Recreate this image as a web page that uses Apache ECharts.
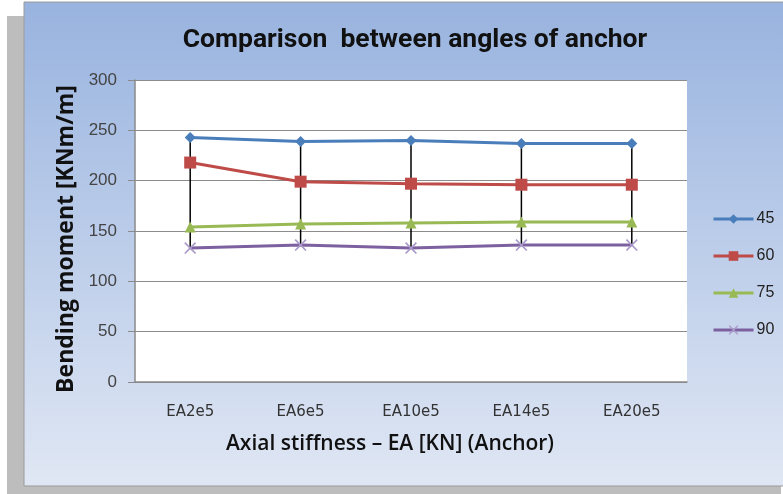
<!DOCTYPE html>
<html>
<head>
<meta charset="utf-8">
<title>Comparison between angles of anchor</title>
<script src="https://cdn.jsdelivr.net/npm/echarts@6/dist/echarts.min.js"></script>
<style>
  html, body { margin: 0; padding: 0; background: #fff; }
  #mychart1 { width: 783px; height: 494px; }
</style>
</head>
<body>
<div id="mychart1"></div>
<script>
// categories (x axis)
const categories = ["EA2e5", "EA6e5", "EA10e5", "EA14e5", "EA20e5"];
// bending moment per anchor angle
const angle45 = [243, 239, 240, 237, 237];
const angle60 = [218, 199, 197, 196, 196];
const angle75 = [154, 157, 158, 159, 159];
const angle90 = [133, 136, 133, 136, 136];
const seriesNames = ["45", "60", "75", "90"];
// y axis ticks
const yMin = 0, yMax = 300, yStep = 50;

// high-low lines: top and bottom value of each category
const allSeries = [angle45, angle60, angle75, angle90];
const hiLow = categories.map((c, i) => {
  const vals = allSeries.map(s => s[i]);
  return [i, Math.max(...vals), Math.min(...vals)];
});

const crossPath = "path://M0,1L1,0L5,4L9,0L10,1L6,5L10,9L9,10L5,6L1,10L0,9L4,5Z";

const option = {
  animation: false,
  graphic: [
    { // 阴影
      type: "rect", z: -10, silent: true,
      shape: { x: 7, y: 16, width: 774, height: 478 },
      style: { fill: "#bdbdbd" }
    },
    { // 图表区背景
      type: "rect", z: -9, silent: true,
      shape: { x: 24, y: 2, width: 762, height: 484 },
      style: {
        fill: new echarts.graphic.LinearGradient(0, 0, 0, 1, [
          { offset: 0, color: "#98b3df" },
          { offset: 1, color: "#e0e7f4" }
        ]),
        stroke: "#9a9a9a", lineWidth: 1
      }
    }
  ],
  title: {
    text: "Comparison  between angles of anchor",
    left: 410,
    top: 22,
    textAlign: "center",
    textStyle: {
      fontFamily: "Roboto",
      fontWeight: "bold",
      fontSize: 26.5,
      color: "#111"
    }
  },
  legend: {
    orient: "vertical",
    left: 707,
    top: 206,
    itemWidth: 40,
    itemHeight: 12,
    itemGap: 21,
    data: seriesNames,
    lineStyle: { width: 3 },
    textStyle: { fontFamily: "Liberation Sans", fontSize: 16, color: "#222", padding: [0, 0, 0, -2] }
  },
  grid: {
    left: 135, right: 96, top: 80, bottom: 112,
    show: true, backgroundColor: "#ffffff", borderWidth: 0
  },
  xAxis: {
    type: "category",
    data: categories,
    boundaryGap: true,
    name: "Axial stiffness – EA [KN] (Anchor)",
    nameLocation: "middle",
    nameGap: 52,
    nameTextStyle: { fontFamily: "Open Sans", fontSize: 21, fontWeight: 600, color: "#111", padding: [0, 42, 0, 0] },
    axisLine: { show: true, lineStyle: { color: "#8a8a8a", width: 1.5 } },
    axisTick: { show: false },
    axisLabel: { margin: 23, fontFamily: "DejaVu Sans", fontSize: 15, color: "#333" }
  },
  yAxis: {
    type: "value",
    min: yMin, max: yMax, interval: yStep,
    name: "Bending moment [KNm/m]",
    nameLocation: "middle",
    nameGap: 51,
    nameTextStyle: { fontFamily: "Open Sans", fontSize: 23, fontWeight: "bold", color: "#111", padding: [0, 16, 0, 0] },
    axisLine: { show: true, lineStyle: { color: "#8a8a8a", width: 1.5 } },
    axisTick: { show: true, inside: false, length: 7, lineStyle: { color: "#8a8a8a" } },
    axisLabel: { margin: 18, fontFamily: "Liberation Sans", fontSize: 17, color: "#444" },
    splitLine: { show: true, lineStyle: { color: "#8c8c8c", width: 1 } }
  },
  series: [
    { // 高低线
      type: "custom",
      silent: true,
      z: 1,
      data: hiLow,
      encode: { x: 0, y: [1, 2] },
      renderItem: function (params, api) {
        const top = api.coord([api.value(0), api.value(1)]);
        const bottom = api.coord([api.value(0), api.value(2)]);
        return {
          type: "line",
          shape: { x1: top[0], y1: top[1], x2: bottom[0], y2: bottom[1] },
          style: { stroke: "#000", lineWidth: 1.5 }
        };
      }
    },
    {
      name: seriesNames[0], type: "line", data: angle45, z: 5,
      symbol: "diamond", symbolSize: 11,
      lineStyle: { color: "#4a7ebb", width: 3 },
      itemStyle: { color: "#4a7ebb" }
    },
    {
      name: seriesNames[1], type: "line", data: angle60, z: 4,
      symbol: "rect", symbolSize: 12,
      lineStyle: { color: "#be4b48", width: 3 },
      itemStyle: { color: "#be4b48" }
    },
    {
      name: seriesNames[2], type: "line", data: angle75, z: 3,
      symbol: "triangle", symbolSize: 11,
      lineStyle: { color: "#98b954", width: 3 },
      itemStyle: { color: "#98b954" }
    },
    {
      name: seriesNames[3], type: "line", data: angle90, z: 2,
      symbol: crossPath, symbolSize: 12,
      lineStyle: { color: "#7d60a0", width: 3 },
      itemStyle: { color: "#a99ac9" }
    }
  ]
};

const myChart = echarts.init(document.getElementById("mychart1"));
myChart.setOption(option);
window.addEventListener("resize", () => {
  myChart.resize();
});
</script>
</body>
</html>
